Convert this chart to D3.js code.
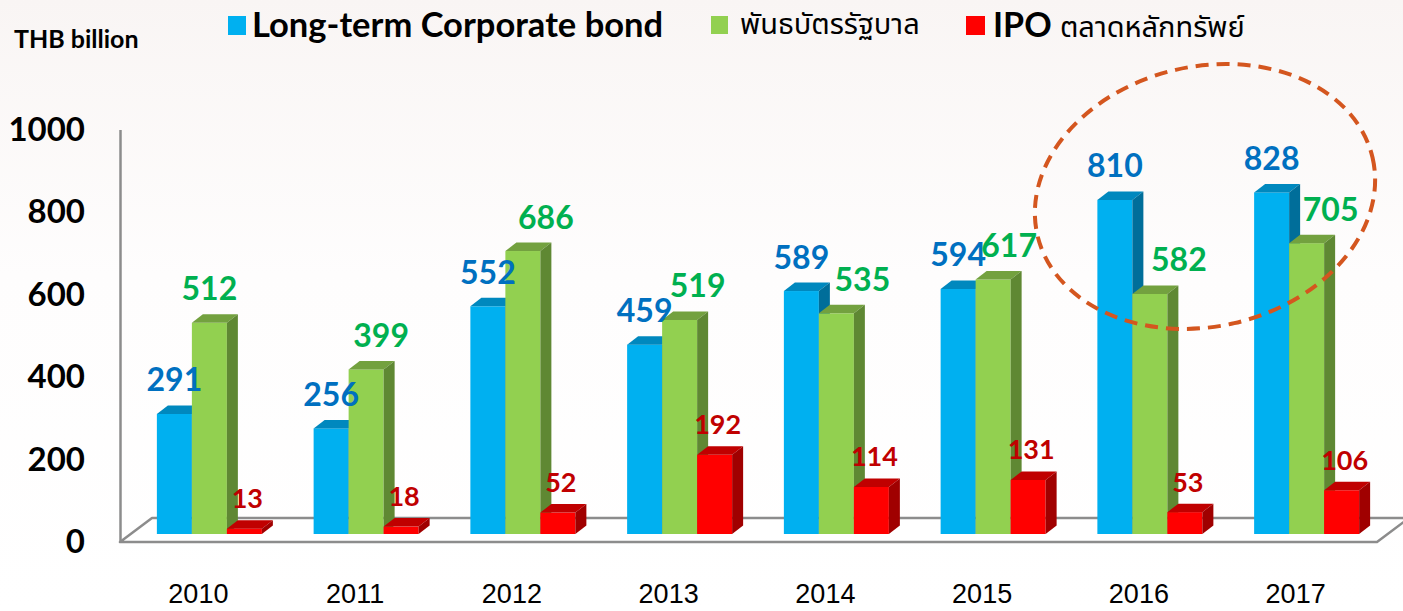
<!DOCTYPE html>
<html>
<head>
<meta charset="utf-8">
<script src="https://cdn.jsdelivr.net/npm/d3@7"></script>
<style>
  body { margin: 0; background: #fff; }
  svg { display: block; }
</style>
</head>
<body>
<svg width="1403" height="611"></svg>
<script>
// values, THB billion
var years = ["2010", "2011", "2012", "2013", "2014", "2015", "2016", "2017"];
var corporateBond = [291, 256, 552, 459, 589, 594, 810, 828];
var govBond = [512, 399, 686, 519, 535, 617, 582, 705];
var ipo = [13, 18, 52, 192, 114, 131, 53, 106];
var yTicks = [0, 200, 400, 600, 800, 1000];
var seriesKeys = ["corp", "gov", "ipo"];

// the green labels were pushed right by hand in the original
var govLabelShift = [0, 15, 23, 18, 26, 16, 29, 24];

var colors = {
  corp: {front: "#00B0F0", top: "#0088BE", side: "#006E9A", label: "#0070C0"},
  gov:  {front: "#92D050", top: "#73A13F", side: "#5F8833", label: "#00B050"},
  ipo:  {front: "#FF0000", top: "#C00000", side: "#A00000", label: "#C00000"}
};

var rows = years.map(function(yr, i) {
  return {year: yr, i: i, corp: corporateBond[i], gov: govBond[i], ipo: ipo[i]};
});

// one cell per bar, in drawing order (left to right)
var cells = [];
rows.forEach(function(r) {
  seriesKeys.forEach(function(k) {
    cells.push({year: r.year, i: r.i, key: k, value: r[k]});
  });
});

var svg = d3.select("svg");

// background
var defs = svg.append("defs");
var grad = defs.append("linearGradient").attr("id", "bg").attr("x1", 0).attr("y1", 0).attr("x2", 0).attr("y2", 1);
grad.append("stop").attr("offset", "0%").attr("stop-color", "#F9F5F4");
grad.append("stop").attr("offset", "45%").attr("stop-color", "#FEFDFD");
grad.append("stop").attr("offset", "100%").attr("stop-color", "#FFFFFF");
svg.append("rect").attr("width", 1403).attr("height", 611).attr("fill", "url(#bg)");

var depth = {dx: 11, dy: -8};     // bars sit a bit behind the front plane
var thick = {dx: 11, dy: -8.5};   // 3d thickness of a bar
var floorDepth = {dx: 32, dy: -24};
var barW = 35;

var x = d3.scaleBand().domain(years).range([120, 1374]);
var xSub = d3.scaleBand().domain(seriesKeys).range([0, barW * 3]);
var y = d3.scaleLinear().domain([0, 1000]).range([542, 129.5]);

function barLeft(d) {
  return x(d.year) + (x.bandwidth() - barW * 3) / 2 + depth.dx + xSub(d.key);
}
function barTop(d) { return y(d.value) + depth.dy; }
var barBase = y(0) + depth.dy;

// floor
var fx0 = x.range()[0], fx1 = x.range()[1] + 3, fy = y(0);
svg.append("path")
  .attr("d", "M" + fx0 + "," + fy + "L" + fx1 + "," + fy +
    "L" + (fx1 + floorDepth.dx) + "," + (fy + floorDepth.dy) +
    "L" + (fx0 + floorDepth.dx) + "," + (fy + floorDepth.dy) + "Z")
  .attr("fill", "#FFFFFF")
  .attr("stroke", "#8C8C8C")
  .attr("stroke-width", 2.5)
  .attr("stroke-linejoin", "round");

// y axis
var yAxis = svg.append("g")
  .attr("transform", "translate(120,0)")
  .call(d3.axisLeft(y).tickValues(yTicks).tickFormat(d3.format("d"))
    .tickSize(0).tickSizeOuter(0).tickPadding(35));
yAxis.select(".domain").attr("stroke", "#8C8C8C").attr("stroke-width", 2.5);
yAxis.selectAll("text")
  .attr("font-family", "Lato, sans-serif")
  .attr("font-weight", 700)
  .attr("font-size", 33)
  .attr("fill", "#000");

// x axis
var xAxis = svg.append("g")
  .attr("transform", "translate(0," + y(0) + ")")
  .call(d3.axisBottom(x).tickSize(0).tickPadding(42));
xAxis.select(".domain").remove();
xAxis.selectAll("text")
  .attr("font-family", "'Liberation Sans', Arial, sans-serif")
  .attr("font-size", 27)
  .attr("fill", "#000");

// bars
var bar = svg.append("g").selectAll("g")
  .data(cells)
  .join("g");

bar.append("rect")
  .attr("x", barLeft)
  .attr("y", barTop)
  .attr("width", barW)
  .attr("height", function(d) { return barBase - barTop(d); })
  .attr("fill", function(d) { return colors[d.key].front; });

bar.append("path")
  .attr("d", function(d) {
    var x0 = barLeft(d), yt = barTop(d);
    return "M" + x0 + "," + yt + "L" + (x0 + barW) + "," + yt +
      "L" + (x0 + barW + thick.dx) + "," + (yt + thick.dy) +
      "L" + (x0 + thick.dx) + "," + (yt + thick.dy) + "Z";
  })
  .attr("fill", function(d) { return colors[d.key].top; });

bar.append("path")
  .attr("d", function(d) {
    var x1 = barLeft(d) + barW, yt = barTop(d);
    return "M" + x1 + "," + yt + "L" + (x1 + thick.dx) + "," + (yt + thick.dy) +
      "L" + (x1 + thick.dx) + "," + (barBase + thick.dy) +
      "L" + x1 + "," + barBase + "Z";
  })
  .attr("fill", function(d) { return colors[d.key].side; });

// value labels
svg.append("g").selectAll("text")
  .data(cells)
  .join("text")
  .attr("x", function(d) {
    var cx = barLeft(d) + barW / 2;
    if (d.key == "gov") return cx + govLabelShift[d.i];
    if (d.key == "ipo") return cx + 3;
    return cx;
  })
  .attr("y", function(d) {
    var top = barTop(d) + thick.dy;
    if (d.key == "ipo") return top - 12;
    return top - 14;
  })
  .attr("text-anchor", "middle")
  .attr("font-family", "Lato, sans-serif")
  .attr("font-weight", 700)
  .attr("font-size", function(d) { return d.key == "ipo" ? 27 : 32; })
  .attr("fill", function(d) { return colors[d.key].label; })
  .text(function(d) { return d.value; });

// highlight around 2016-2017
svg.append("ellipse")
  .attr("cx", 1205).attr("cy", 196.5)
  .attr("rx", 172).attr("ry", 130)
  .attr("transform", "rotate(-13,1205,196.5)")
  .attr("fill", "none")
  .attr("stroke", "#D4561F")
  .attr("stroke-width", 4)
  .attr("stroke-dasharray", "13,8");

// unit + legend
svg.append("text")
  .attr("x", 14).attr("y", 48)
  .attr("font-family", "Lato, sans-serif")
  .attr("font-weight", 700)
  .attr("font-size", 25)
  .text("THB billion");

var legend = svg.append("g");
legend.append("rect").attr("x", 228).attr("y", 16).attr("width", 18).attr("height", 19).attr("fill", colors.corp.front);
legend.append("text").attr("x", 252).attr("y", 37)
  .attr("font-family", "Lato, sans-serif").attr("font-weight", 700).attr("font-size", 34.5)
  .text("Long-term Corporate bond");

legend.append("rect").attr("x", 711).attr("y", 16).attr("width", 17).attr("height", 18).attr("fill", colors.gov.front);
legend.append("text").attr("x", 740).attr("y", 34)
  .attr("font-family", "'Noto Sans Thai', Tahoma, 'DejaVu Sans', sans-serif").attr("font-size", 29)
  .text("พันธบัตรรัฐบาล");

legend.append("rect").attr("x", 966).attr("y", 16).attr("width", 19).attr("height", 19).attr("fill", colors.ipo.front);
var ipoText = legend.append("text").attr("x", 993).attr("y", 37);
ipoText.append("tspan")
  .attr("font-family", "Lato, sans-serif").attr("font-weight", 700).attr("font-size", 34)
  .text("IPO ");
ipoText.append("tspan")
  .attr("font-family", "'Noto Sans Thai', Tahoma, 'DejaVu Sans', sans-serif").attr("font-size", 29)
  .text("ตลาดหลักทรัพย์");
</script>
</body>
</html>
